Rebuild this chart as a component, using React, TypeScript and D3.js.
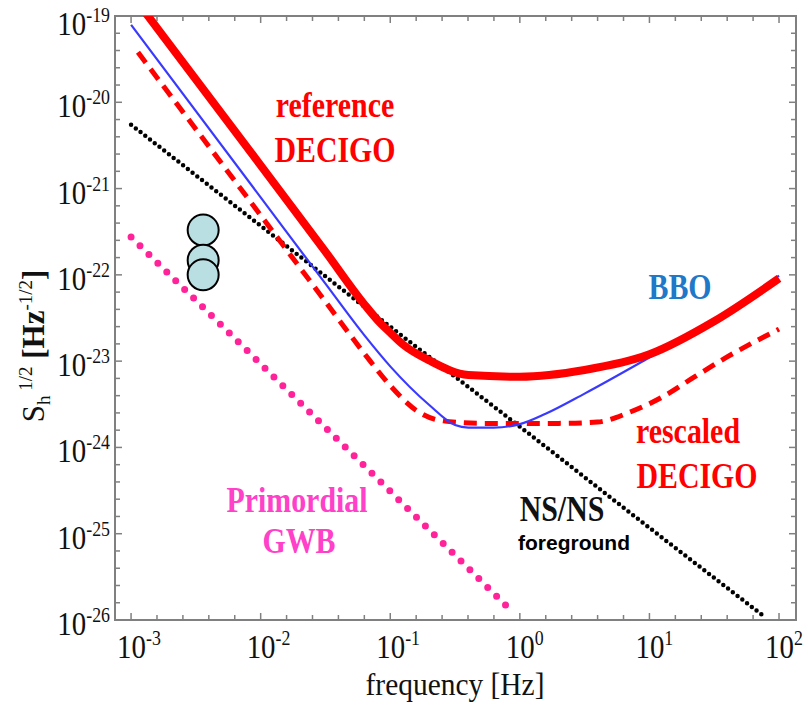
import * as d3 from "d3";

// frequency [Hz] and strain sensitivity S_h^1/2
const refDecigoF = [1e-3, 1e-2, 0.0316, 0.063, 0.084, 0.1, 0.126, 0.2, 0.4, 1, 3.16, 10, 31.6, 100];
const refDecigoS = [1.82e-19, 1.86e-21, 1.86e-22, 4.57e-23, 2.75e-23, 2.14e-23, 1.55e-23, 1.02e-23, 6.9e-24, 6.6e-24, 7.9e-24, 1.2e-23, 2.9e-23, 9.1e-23];

const bboF = [1e-3, 1e-2, 0.0316, 0.063, 0.1, 0.2, 0.316, 0.4, 0.63, 1, 1.58, 3.16, 10, 31.6, 100];
const bboS = [7.9e-20, 7.9e-22, 7.9e-23, 2.0e-23, 8.7e-24, 3.1e-24, 1.82e-24, 1.7e-24, 1.7e-24, 1.86e-24, 2.45e-24, 4.2e-24, 1.1e-23, 2.95e-23, 9.8e-23];

const rescaledF = [1.13e-3, 1e-2, 0.0316, 0.063, 0.1, 0.158, 0.25, 0.5, 1, 2, 3.98, 7.08, 12.6, 22.4, 39.8, 100];
const rescaledS = [3.8e-20, 4.9e-22, 4.9e-23, 1.23e-23, 5.2e-24, 2.7e-24, 2.04e-24, 1.9e-24, 1.9e-24, 1.9e-24, 1.97e-24, 2.57e-24, 3.85e-24, 6.6e-24, 1.12e-23, 2.35e-23];

const nsnsF = [1e-3, 1e-2, 0.1, 1, 10, 78.7];
const nsnsS = [5.5e-21, 3.7e-22, 2.5e-23, 1.74e-24, 1.17e-25, 1.07e-26];

const gwbF = [1e-3, 1e-2, 0.1, 0.87];
const gwbS = [2.75e-22, 9.3e-24, 3.1e-25, 1.26e-26];

const markerF = [3.6e-3, 3.6e-3, 3.6e-3];
const markerS = [3.3e-22, 1.48e-22, 1.0e-22];

const xTickExps = [-3, -2, -1, 0, 1, 2];
const yTickExps = [-26, -25, -24, -23, -22, -21, -20, -19];

const W = 808;
const H = 706;
const left = 115, right = 796, top = 16, bottom = 620;

const x = d3.scaleLog().domain([Math.pow(10, -3.124), Math.pow(10, 2.131)]).range([left, right]);
const y = d3.scaleLog().domain([1e-26, 1e-19]).range([bottom, top]);

const line = d3
  .line<[number, number]>()
  .x((d) => x(d[0]))
  .y((d) => y(d[1]))
  .curve(d3.curveMonotoneX);

const zip = (f: number[], s: number[]) => f.map((v, i) => [v, s[i]] as [number, number]);

const serif = "'Liberation Serif', 'DejaVu Serif', serif";
const sans = "'Liberation Sans', Arial, sans-serif";

// bold label squeezed a bit like the original
const Label = ({ cx, by, text, color }: { cx: number; by: number; text: string; color: string }) => (
  <g transform={`translate(${cx},${by}) scale(0.83,1)`}>
    <text textAnchor="middle" fontFamily={serif} fontWeight="bold" fontSize={36} fill={color}>
      {text}
    </text>
  </g>
);

const App = () => {
  // minor ticks every 0.2 decade
  const xMinor = d3.range(-3, 2.01, 0.2).map((e) => Math.pow(10, e));
  const yMinor = d3.range(-26, -18.99, 0.2).map((e) => Math.pow(10, e));

  return (
    <div style={{ position: "absolute", left: 0, top: 0 }}>
      <svg width={W} height={H} style={{ display: "block", background: "#fff" }}>
        <defs>
          <clipPath id="plot">
            <rect x={left} y={top} width={right - left} height={bottom - top} />
          </clipPath>
        </defs>

        {/* frame */}
        <rect x={left} y={top} width={right - left} height={bottom - top} fill="none" stroke="#808080" strokeWidth={2} />
        <g stroke="#808080" strokeWidth={1.5}>
          {xMinor.map((f, i) => {
            const len = i % 5 === 0 ? 7 : 5;
            return (
              <g key={"xt" + i}>
                <line x1={x(f)} x2={x(f)} y1={bottom} y2={bottom - len} />
                <line x1={x(f)} x2={x(f)} y1={top} y2={top + len} />
              </g>
            );
          })}
          {yMinor.map((s, i) => {
            const len = i % 5 === 0 ? 7 : 5;
            return (
              <g key={"yt" + i}>
                <line x1={left} x2={left + len} y1={y(s)} y2={y(s)} />
                <line x1={right} x2={right - len} y1={y(s)} y2={y(s)} />
              </g>
            );
          })}
        </g>

        {/* tick labels */}
        {xTickExps.map((e) => (
          <g key={"xl" + e} transform={`translate(${x(Math.pow(10, e)) - 14},658) scale(0.85,1)`}>
            <text fontFamily={serif} fontSize={34} fill="#111">
              10
              <tspan fontSize={21} dy={-13}>{e}</tspan>
            </text>
          </g>
        ))}
        {yTickExps.map((e) => (
          <g key={"yl" + e} transform={`translate(110,${y(Math.pow(10, e)) + (e === -19 ? 19 : 15)}) scale(0.85,1)`}>
            <text fontFamily={serif} fontSize={34} fill="#111" textAnchor="end">
              10
              <tspan fontSize={21} dy={-13}>{e}</tspan>
            </text>
          </g>
        ))}

        {/* axis titles */}
        <g transform="translate(455,695) scale(0.92,1)">
          <text textAnchor="middle" fontFamily={serif} fontSize={32} fill="#111">
            frequency [Hz]
          </text>
        </g>
        <g transform="translate(44,346) rotate(-90)">
          <text textAnchor="middle" fontFamily={serif} fontSize={31} fill="#111">
            <tspan>S</tspan>
            <tspan fontSize={19} dy={6}>h</tspan>
            <tspan fontSize={19} dy={-18}> 1/2</tspan>
            <tspan dy={12} fontWeight="bold"> [Hz</tspan>
            <tspan fontSize={19} dy={-12}>-1/2</tspan>
            <tspan dy={12} fontWeight="bold">]</tspan>
          </text>
        </g>

        {/* curves */}
        <g clipPath="url(#plot)" fill="none">
          <path d={line(zip(gwbF, gwbS)) || ""} stroke="#ff2299" strokeWidth={7} strokeDasharray="0 12.5" strokeLinecap="round" />
          <path d={line(zip(nsnsF, nsnsS)) || ""} stroke="#000" strokeWidth={4.5} strokeDasharray="0 6" strokeLinecap="round" />
          <path d={line(zip(rescaledF, rescaledS)) || ""} stroke="#ff0000" strokeWidth={5} strokeDasharray="13 8" />
          <path d={line(zip(bboF, bboS)) || ""} stroke="#3a3aff" strokeWidth={2.2} />
          <path d={line(zip(refDecigoF, refDecigoS)) || ""} stroke="#ff0000" strokeWidth={8} strokeLinejoin="round" />
        </g>

        {/* markers */}
        {markerF.map((f, i) => (
          <circle key={"m" + i} cx={x(f)} cy={y(markerS[i])} r={15.5} fill="#b9dfe2" stroke="#000" strokeWidth={2} />
        ))}

        {/* curve labels */}
        <Label cx={335} by={117} text="reference" color="#ff0000" />
        <Label cx={335} by={162} text="DECIGO" color="#ff0000" />
        <Label cx={680} by={299} text="BBO" color="#1f78c8" />
        <Label cx={688} by={443} text="rescaled" color="#ff0000" />
        <Label cx={697} by={488} text="DECIGO" color="#ff0000" />
        <Label cx={297} by={512} text="Primordial" color="#ff40c8" />
        <Label cx={299} by={553} text="GWB" color="#ff40c8" />
        <Label cx={562} by={521} text="NS/NS" color="#111" />
        <text x={574} y={550} textAnchor="middle" fontFamily={sans} fontWeight="bold" fontSize={21} fill="#000">
          foreground
        </text>
      </svg>
    </div>
  );
};

export default App;
